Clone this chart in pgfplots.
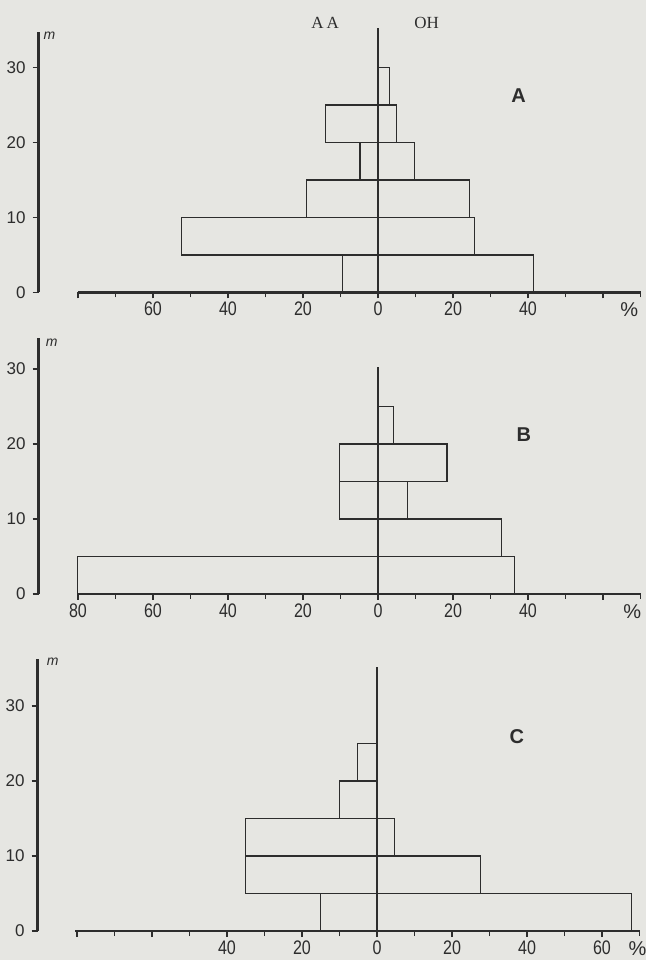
\documentclass[border=0pt]{standalone}
\usepackage{fontspec}
\setmainfont{Liberation Sans}
\newfontfamily\serifAA{Liberation Serif}
\newfontfamily\tickfont{Liberation Sans}[FakeStretch=0.82]
\usepackage{pgfplots}
\pgfplotsset{compat=1.18}
\usepackage{pgfplotstable}
\definecolor{bg}{RGB}{230,230,226}
\definecolor{ink}{RGB}{45,45,45}

% height class midpoints (m), AA (left, negative) and OH (right) in %
\pgfplotstableread{
mid aa oh
2.5 -9.5 41.4
7.5 -52.4 25.7
12.5 -19.0 24.4
17.5 -4.8 9.7
22.5 -14.1 4.9
27.5 0 3.0
}\dataA
\pgfplotstableread{
mid aa oh
2.5 -80.2 36.5
7.5 0 32.9
12.5 -10.2 7.9
17.5 -10.2 18.4
22.5 0 4.1
}\dataB
\pgfplotstableread{
mid aa oh
2.5 -15.1 67.8
7.5 -35.0 27.7
12.5 -35.0 4.6
17.5 -10.1 0
22.5 -5.2 0
}\dataC

\pgfplotsset{
  panel/.style={
    x=1.875pt, y=3.75pt,
    anchor=origin,
    xmin=-90.5, xmax=70, ymin=0,
    axis x line=bottom, axis y line=left,
    x axis line style={draw=none},
    y axis line style={line width=1.2pt, draw=ink, -},
    xtick={-80,-60,-40,-20,0,20,40,60},
    minor xtick={-70,-50,-30,-10,10,30,50,70},
    ytick={0,10,20,30},
    tick align=outside,
    major tick length=3pt, minor tick length=2.5pt,
    tick style={draw=ink, line width=0.6pt},
    xticklabel style={font=\tickfont\fontsize{9.8}{10}\selectfont, text=ink, inner sep=1.5pt},
    yticklabel style={font=\fontsize{8.5}{10}\selectfont, text=ink},
    /pgf/number format/assume math mode=true,
    clip=false,
  },
  lbar/.style={xbar, bar width=5, bar shift=0pt, draw=ink, fill=none, line width=0.62pt},
}

\begin{document}
\begin{tikzpicture}
\useasboundingbox (0,0) rectangle (323pt,480pt);
\fill[bg] (0,0) rectangle (323pt,480pt);

% ---------- A ----------
\begin{axis}[panel, at={(189pt,333.75pt)}, ymax=34.7,
  xticklabels={,60,40,20,0,20,40,}]
\addplot[lbar] table[x=aa,y=mid]{\dataA};
\addplot[lbar] table[x=oh,y=mid]{\dataA};
\draw[ink, line width=1.4pt] (axis cs:-80,0) -- (axis cs:70,0);
\draw[ink, line width=1.2pt] (axis cs:0,0) -- (axis cs:0,35.3);
\node[text=ink, font=\bfseries\fontsize{10}{12}\selectfont] at (axis cs:37.5,26.2) {A};
\node[text=ink, font=\fontsize{10}{12}\selectfont, yshift=-8.8pt] at (axis cs:67,0) {\%};
\node[text=ink, font=\itshape\fontsize{7}{8}\selectfont] at (axis cs:-87.6,34.2) {m};
\node[text=ink, font=\serifAA\fontsize{8.5}{10}\selectfont] at (axis cs:-14.1,35.9) {A\,A};
\node[text=ink, font=\serifAA\fontsize{8.5}{10}\selectfont] at (axis cs:13,36) {OH};
\end{axis}

% ---------- B ----------
\begin{axis}[panel, at={(189pt,183pt)}, ymax=34.1,
  xticklabels={80,60,40,20,0,20,40,}]
\addplot[lbar] table[x=aa,y=mid]{\dataB};
\addplot[lbar] table[x=oh,y=mid]{\dataB};
\draw[ink, line width=1.4pt] (axis cs:-80,0) -- (axis cs:70,0);
\draw[ink, line width=1.2pt] (axis cs:0,0) -- (axis cs:0,30.3);
\node[text=ink, font=\bfseries\fontsize{10}{12}\selectfont] at (axis cs:38.9,21.2) {B};
\node[text=ink, font=\fontsize{10}{12}\selectfont, yshift=-8.8pt] at (axis cs:67.8,0) {\%};
\node[text=ink, font=\itshape\fontsize{7}{8}\selectfont] at (axis cs:-87,33.5) {m};
\end{axis}

% ---------- C ----------
\begin{axis}[panel, at={(188.5pt,14.5pt)}, ymax=36.3,
  xticklabels={,,40,20,0,20,40,60}]
\addplot[lbar] table[x=aa,y=mid]{\dataC};
\addplot[lbar] table[x=oh,y=mid]{\dataC};
\draw[ink, line width=1.4pt] (axis cs:-80.5,0) -- (axis cs:70,0);
\draw[ink, line width=1.2pt] (axis cs:0,0) -- (axis cs:0,35.2);
\node[text=ink, font=\bfseries\fontsize{10}{12}\selectfont] at (axis cs:37.3,25.9) {C};
\node[text=ink, font=\fontsize{10}{12}\selectfont, yshift=-8.8pt] at (axis cs:69.5,0) {\%};
\node[text=ink, font=\itshape\fontsize{7}{8}\selectfont] at (axis cs:-86.5,35.9) {m};
\end{axis}
\end{tikzpicture}
\end{document}
